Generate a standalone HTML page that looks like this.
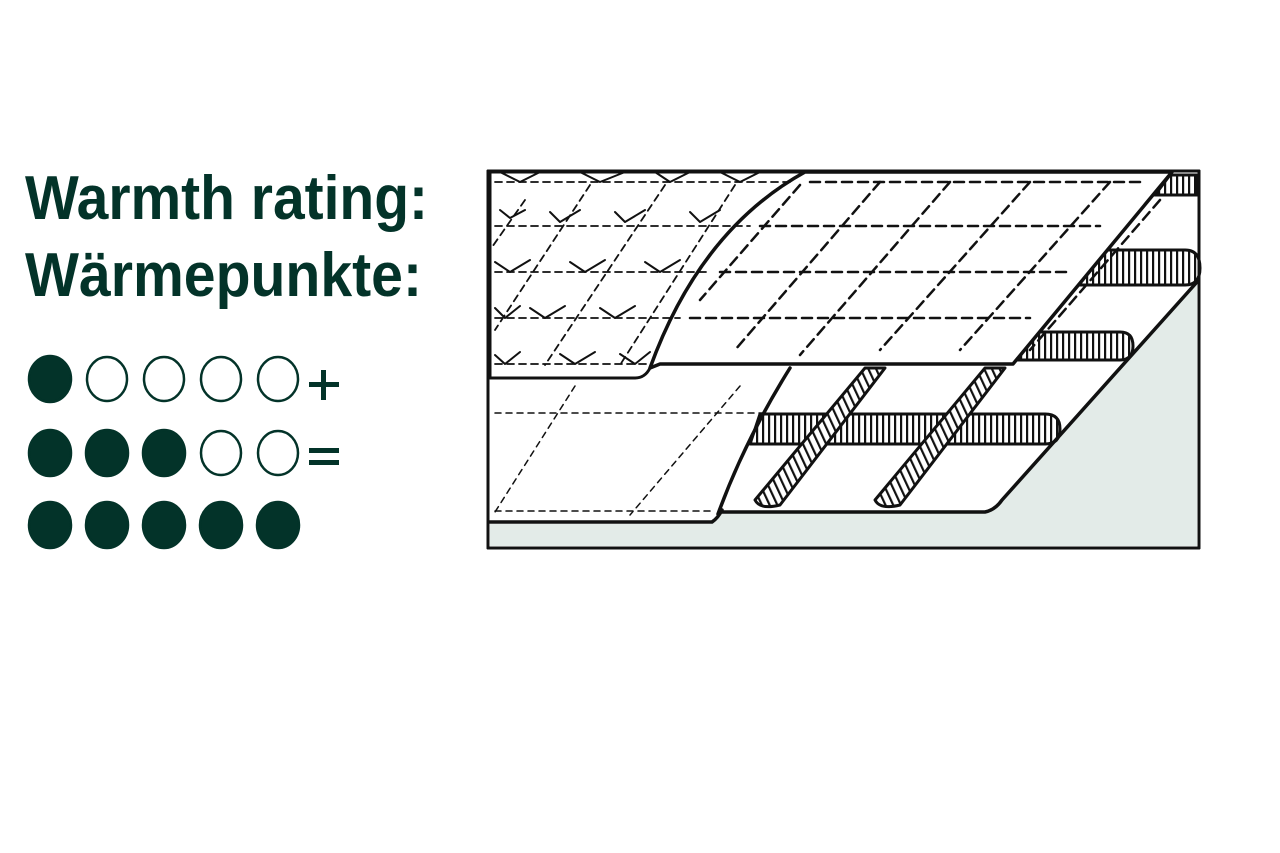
<!DOCTYPE html>
<html><head><meta charset="utf-8"><style>
html,body{margin:0;padding:0;background:#fff;width:1280px;height:853px;overflow:hidden}
</style></head><body>
<svg width="1280" height="853" viewBox="0 0 1280 853" xmlns="http://www.w3.org/2000/svg">
<defs>
<pattern id="vh" width="6" height="10" patternUnits="userSpaceOnUse">
<rect width="6" height="10" fill="#fff"/><rect x="0" y="0" width="2.2" height="10" fill="#111"/>
</pattern>
<pattern id="dh" width="7" height="10" patternUnits="userSpaceOnUse" patternTransform="rotate(-25)">
<rect width="7" height="10" fill="#fff"/><rect x="0" y="0" width="2.2" height="10" fill="#111"/>
</pattern>
</defs>
<g fill="#033329" font-family="Liberation Sans, sans-serif" font-weight="bold">
<text x="25" y="219" font-size="62" textLength="403" lengthAdjust="spacingAndGlyphs">Warmth rating:</text>
<text x="25" y="296" font-size="62" textLength="397" lengthAdjust="spacingAndGlyphs">Wärmepunkte:</text>
</g>
<g fill="#033329" stroke="#033329" stroke-width="2.5">
<ellipse cx="50" cy="379" rx="21" ry="23"/>
<ellipse cx="107" cy="379" rx="20" ry="22" fill="#fff"/>
<ellipse cx="164" cy="379" rx="20" ry="22" fill="#fff"/>
<ellipse cx="221" cy="379" rx="20" ry="22" fill="#fff"/>
<ellipse cx="278" cy="379" rx="20" ry="22" fill="#fff"/>
<ellipse cx="50" cy="453" rx="21" ry="23"/>
<ellipse cx="107" cy="453" rx="21" ry="23"/>
<ellipse cx="164" cy="453" rx="21" ry="23"/>
<ellipse cx="221" cy="453" rx="20" ry="22" fill="#fff"/>
<ellipse cx="278" cy="453" rx="20" ry="22" fill="#fff"/>
<ellipse cx="50" cy="525" rx="21" ry="23"/>
<ellipse cx="107" cy="525" rx="21" ry="23"/>
<ellipse cx="164" cy="525" rx="21" ry="23"/>
<ellipse cx="221" cy="525" rx="21" ry="23"/>
<ellipse cx="278" cy="525" rx="21" ry="23"/>
</g>
<g fill="#033329">
<rect x="309" y="382" width="30" height="5"/><rect x="321" y="370" width="5" height="30"/>
<rect x="309" y="448" width="30" height="5"/><rect x="309" y="460" width="30" height="5"/>
</g>
<!-- diagram -->
<g stroke="#111" fill="none" stroke-linecap="round" stroke-linejoin="round">
<rect x="488" y="171" width="711" height="377" fill="#fff" stroke-width="3"/>
<path d="M490 524 L710 524 Q716 522 722 512 L985 512 Q995 510 1002 500 L1197 282 L1197 546 L490 546 Z" fill="#e3ebe8" stroke="none"/>
<path d="M790 366 L1012 364 L1197 180 L1197 282 L1002 500 Q995 510 985 512 L722 512 Q745 450 790 366 Z" fill="#fff" stroke="none"/>
<path d="M1170 175 L1197 175 L1197 195 L1155 195 Z" fill="url(#vh)" stroke-width="3"/>
<path d="M1095 250 L1185 250 Q1200 250 1200 268 Q1200 285 1185 285 L1075 285 Z" fill="url(#vh)" stroke-width="3"/>
<path d="M1035 332 L1120 332 Q1133 332 1133 346 Q1133 360 1120 360 L1015 360 Z" fill="url(#vh)" stroke-width="3"/>
<path d="M760 414 L1045 414 Q1060 414 1060 429 Q1060 444 1045 444 L750 444 Z" fill="url(#vh)" stroke-width="3"/>
<path d="M865 368 L885 368 L780 505 Q760 510 755 500 Z" fill="url(#dh)" stroke-width="3"/>
<path d="M985 368 L1005 368 L900 505 Q880 510 875 500 Z" fill="url(#dh)" stroke-width="3"/>
<path d="M790 368 Q745 440 718 514" stroke-width="3.5"/>
<path d="M722 512 L985 512 Q995 510 1002 500 L1197 282" stroke-width="3.5"/>
<path d="M1155 195 L1197 195" stroke-width="3"/>
<path d="M490 522 L712 522 Q718 518 722 510" stroke-width="3.5"/>
<g stroke-width="1.5" stroke-dasharray="6 5">
<path d="M495 413 L765 413"/><path d="M495 511 L712 511"/>
<path d="M575 386 L495 512"/><path d="M740 386 L630 515"/>
</g>
<path d="M490 172 L805 172 Q700 230 650 368 Q645 378 635 378 L490 378 Z" fill="#fff" stroke-width="3"/>
<path d="M805 172 L1172 172 L1013 364 L660 364 Q650 368 650 368 Q700 230 805 172 Z" fill="#fff" stroke-width="3.5"/>
<g stroke-width="2.5" stroke-dasharray="10 6">
<path d="M810 182 L1140 182"/><path d="M760 226 L1100 226"/><path d="M720 272 L1070 272"/><path d="M690 318 L1030 318"/>
<path d="M880 182 L735 350"/><path d="M950 182 L800 355"/><path d="M1030 182 L880 350"/><path d="M1110 182 L960 350"/><path d="M1160 200 L1030 350"/>
<path d="M800 185 L700 300"/>
</g>
<g stroke-width="1.8" stroke-dasharray="7 5">
<path d="M495 182 L790 182"/><path d="M495 226 L750 226"/><path d="M495 272 L710 272"/><path d="M495 318 L680 318"/><path d="M495 364 L650 364"/>
<path d="M525 200 L490 250"/><path d="M590 185 L495 330"/><path d="M665 185 L545 365"/><path d="M735 185 L620 365"/>
</g>
<g stroke-width="2">
<path d="M500 172 L520 182 L540 172"/><path d="M580 172 L600 182 L625 172"/><path d="M655 172 L670 182 L690 172"/><path d="M720 172 L740 182 L760 172"/>
<path d="M500 210 L510 218 L525 210"/><path d="M550 212 L560 222 L580 210"/><path d="M615 212 L625 222 L645 210"/><path d="M690 212 L700 222 L720 210"/>
<path d="M495 262 L510 272 L530 260"/><path d="M570 262 L585 272 L605 260"/><path d="M645 262 L660 272 L680 260"/>
<path d="M495 308 L505 318 L520 306"/><path d="M530 308 L545 318 L565 306"/><path d="M600 308 L615 318 L635 306"/>
<path d="M495 355 L505 364 L520 352"/><path d="M560 354 L575 364 L595 352"/><path d="M620 354 L635 364 L650 352"/>
</g>
<rect x="488" y="171" width="711" height="377" stroke-width="3"/>
</g>
</svg>
</body></html>
